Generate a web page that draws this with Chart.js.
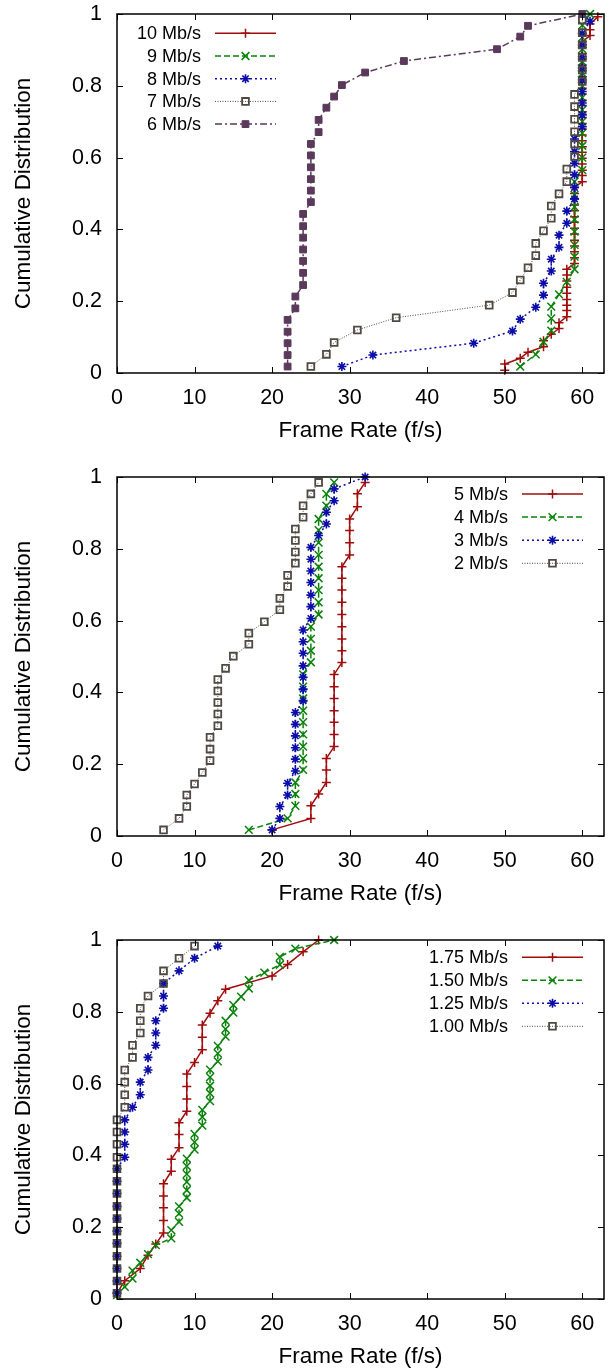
<!DOCTYPE html>
<html>
<head>
<meta charset="utf-8">
<script src="https://cdn.jsdelivr.net/npm/chart.js@4.4.0/dist/chart.umd.min.js"></script>
<style>
  html, body { margin: 0; padding: 0; background: #fff; }
  #wrap { position: relative; width: 611px; height: 1369px; overflow: hidden; }
  canvas { position: absolute; left: 0; }
</style>
</head>
<body>
<div id="wrap">
  <canvas id="c1" width="611" height="463" style="top:0"></canvas>
  <canvas id="c2" width="611" height="463" style="top:463px"></canvas>
  <canvas id="c3" width="611" height="463" style="top:926px"></canvas>
</div>
<script>
// tick labels
const xTicks = [0, 10, 20, 30, 40, 50, 60];
const yTicks = [0, 0.2, 0.4, 0.6, 0.8, 1];

// top panel: 10 / 9 / 8 / 7 / 6 Mb/s
const fps10 = [50,50,52,53,55,55,56,57,57,58, 58,58,58,58,58,58,58,58,
  59,59,59,59,59,59,59,59,59,59,59,59,59,59,
  60,60,60,60,60,60,60,60,60,60,60,60,60,60,60,60,60,60,60,60,60,60,60,60,60,
  61,61,61, 62];
const cdf10 = [0.008,0.025,0.041,0.058,0.073,0.090,0.108,0.124,0.140,0.157,
  0.174,0.189,0.205,0.222,0.239,0.256,0.273,0.289,
  0.305,0.321,0.338,0.354,0.370,0.387,0.403,0.420,0.435,0.452,0.468,0.485,0.500,0.517,
  0.533,0.550,0.565,0.582,0.598,0.615,0.630,0.647,0.663,0.680,0.695,0.712,0.728,0.745,
  0.760,0.777,0.793,0.810,0.825,0.842,0.858,0.875,0.890,0.907,0.923,
  0.940,0.956,0.972, 0.992];

const fps9 = [52,54,55,56,56,56,57,58, 59,59,59,59,59,59,59,59,
  60,60,60,60,60,60,60,60,60,60,60,60,60, 61];
const cdf9 = [0.018,0.052,0.087,0.118,0.152,0.185,0.219,0.254,
  0.289,0.324,0.357,0.394,0.428,0.463,0.496,0.533,
  0.565,0.600,0.633,0.668,0.700,0.733,0.767,0.800,0.835,0.867,0.902,0.935,0.969, 1.0];

const fps8 = [29,33,46,51,52,54,55,55,56,56,57,57,58,58,59,59,59,59,59,59,
  60,60,60,60,60,60,60,60,60, 61];
const cdf8 = [0.018,0.050,0.083,0.117,0.150,0.183,0.217,0.250,0.284,0.317,0.350,0.384,
  0.417,0.451,0.485,0.517,0.552,0.584,0.617,0.652,0.686,0.719,0.752,0.784,0.816,0.849,
  0.881,0.914,0.946,0.980];

const fps7 = [25,27,28,31,36,48,51,52,53,54,54,55,56,56,57,58,58,59,59,59,59,59,59,
  60,60,60,60,60,60];
const cdf7 = [0.018,0.052,0.085,0.120,0.154,0.189,0.224,0.259,0.293,0.327,0.361,0.396,
  0.431,0.465,0.499,0.533,0.568,0.603,0.638,0.672,0.707,0.742,0.776,0.812,0.844,0.879,
  0.914,0.948,0.983];

const fps6 = [22,22,22,22,22,23,23,24,24,24,24,24,24,24,25,25,25,25,25,25,26,26,27,28,29,
  32,37,49,52,53,60];
const cdf6 = [0.018,0.050,0.083,0.115,0.148,0.180,0.213,0.245,0.279,0.312,0.344,0.377,
  0.409,0.443,0.476,0.508,0.540,0.573,0.606,0.638,0.671,0.705,0.739,0.770,0.802,0.837,
  0.869,0.902,0.937,0.967,1.0];

// middle panel: 5 / 4 / 3 / 2 Mb/s
const fps5 = [20,25,25,26,27,27,27,28,28,28,28,28,28,28,29,29,29,29,29,29,29,29,29,
  30,30,30,30,31,31,32];
const cdf5 = [0.017,0.049,0.084,0.117,0.149,0.184,0.216,0.249,0.283,0.317,0.349,0.383,
  0.416,0.450,0.483,0.516,0.549,0.583,0.617,0.651,0.685,0.718,0.750,0.783,0.817,0.851,
  0.883,0.917,0.953,0.985];

const fps4 = [17,22,23,23,23,24,24,24,24,24,24,24,24,24,25,25,25,25,
  26,26,26,26,26,26,26,26,26,27,27,28];
const cdf4 = [0.017,0.049,0.084,0.117,0.149,0.184,0.216,0.249,0.283,0.317,0.349,0.383,
  0.416,0.450,0.484,0.516,0.549,0.583,0.617,0.651,0.685,0.718,0.750,0.783,0.817,0.852,
  0.883,0.920,0.953,0.985];

const fps3 = [20,21,21,22,22,23,23,23,23,23,23,24,24,24,24,24,24,24,
  25,25,25,25,25,25,25,26,27,27,28,28,32];
const cdf3 = [0.017,0.049,0.082,0.114,0.147,0.181,0.214,0.246,0.279,0.311,0.344,0.377,
  0.409,0.442,0.474,0.509,0.541,0.574,0.606,0.639,0.671,0.706,0.738,0.771,0.804,0.837,
  0.869,0.902,0.934,0.967,1.0];

const fps2 = [6,8,9,9,10,11,12,12,12,13,13,13,13,13,14,15,17,17,19,21,21,22,22,
  23,23,23,23,24,24,25,26];
const cdf2 = [0.017,0.049,0.082,0.114,0.145,0.177,0.210,0.242,0.275,0.307,0.340,0.372,
  0.404,0.436,0.467,0.501,0.534,0.565,0.597,0.630,0.662,0.695,0.726,0.760,0.791,0.823,
  0.855,0.888,0.920,0.953,0.985];

// bottom panel: 1.75 / 1.50 / 1.25 / 1.00 Mb/s
const fps175 = [0,1,3,4,5,6,6,6,6,6,7,7,8,8,8,9,9,9,9,10,11,11,11,12,13,14,20,22,24,26];
const cdf175 = [0.016,0.051,0.085,0.122,0.153,0.184,0.219,0.254,0.287,0.321,0.356,0.389,
  0.421,0.458,0.491,0.523,0.557,0.592,0.627,0.659,0.694,0.729,0.763,0.796,0.831,0.863,
  0.900,0.932,0.967,1.0];

const fps150 = [0,1,2,2,3,4,5,7,7,8,8,8,9,9,9,9,9,9,10,10,10,11,11,11,12,12,12,12,12,
  13,13,13,14,14,14,15,15,16,17,17,19,21,21,23,28];
const cdf150 = [0.011,0.034,0.057,0.079,0.101,0.125,0.150,0.169,0.192,0.215,0.238,0.258,
  0.282,0.303,0.326,0.348,0.370,0.391,0.416,0.437,0.460,0.483,0.507,0.527,0.551,0.573,
  0.594,0.618,0.639,0.662,0.684,0.705,0.731,0.752,0.775,0.798,0.819,0.842,0.865,0.888,
  0.909,0.931,0.953,0.976,1.0];

const fps125 = [0,0,0,0,0,0,0,0,0,0,0,1,1,1,1,2,3,3,4,4,5,5,5,6,6,6,8,10,13];
const cdf125 = [0.016,0.050,0.085,0.119,0.155,0.189,0.224,0.258,0.294,0.328,0.363,0.395,
  0.431,0.465,0.499,0.534,0.569,0.604,0.638,0.673,0.707,0.741,0.775,0.810,0.844,0.879,
  0.914,0.949,0.983];

const fps100 = [0,0,0,0,0,0,0,0,0,0,0,0,0,0,0,1,1,1,1,2,2,3,3,3,4,6,6,8,10];
const cdf100 = [0.016,0.050,0.085,0.119,0.155,0.189,0.224,0.258,0.294,0.328,0.363,0.395,
  0.431,0.465,0.499,0.534,0.569,0.604,0.638,0.673,0.707,0.741,0.775,0.810,0.844,0.879,
  0.914,0.949,0.983];

const fontFamily = '"Liberation Sans", Arial, Helvetica, sans-serif';

// gnuplot-like line types
const lt = [
  { color: '#a00c0c', dash: [], width: 1.5, point: 'cross', radius: 4.5, fill: '#a00c0c', pw: 1.5 },
  { color: '#0a820a', dash: [6, 3], width: 1.5, point: 'crossRot', radius: 5.5, fill: '#0a820a', pw: 1.5 },
  { color: '#0c0ca8', dash: [2, 3], width: 1.5, point: 'star', radius: 4.5, fill: '#0c0ca8', pw: 1.6 },
  { color: '#4f4943', dash: [1, 1.5], width: 1, point: 'rect', radius: 4.8, fill: 'rgba(0,0,0,0)', pw: 1.8 },
  { color: '#5a395a', dash: [7, 3, 2, 3], width: 1.5, point: 'rect', radius: 4.8, fill: '#5a395a', pw: 1 }
];

// frame, inner ticks and gnuplot style key
const frame = {
  id: 'frame',
  afterDatasetsDraw(chart, args, opts) {
    const { ctx, chartArea: a } = chart;
    const x = chart.scales.x, y = chart.scales.y;
    ctx.save();
    ctx.setLineDash([]);
    ctx.strokeStyle = '#000';
    ctx.lineWidth = 1;
    ctx.beginPath();
    xTicks.forEach(v => {
      const px = Math.round(x.getPixelForValue(v)) + 0.5;
      ctx.moveTo(px, a.bottom); ctx.lineTo(px, a.bottom - 6);
      ctx.moveTo(px, a.top); ctx.lineTo(px, a.top + 6);
    });
    yTicks.forEach(v => {
      const py = Math.round(y.getPixelForValue(v)) + 0.5;
      ctx.moveTo(a.left, py); ctx.lineTo(a.left + 6, py);
      ctx.moveTo(a.right, py); ctx.lineTo(a.right - 6, py);
    });
    ctx.stroke();
    ctx.lineWidth = 1.5;
    ctx.strokeRect(a.left, a.top, a.right - a.left, a.bottom - a.top);

    // key
    ctx.font = '18px ' + fontFamily;
    ctx.textAlign = 'right';
    ctx.textBaseline = 'middle';
    chart.data.datasets.forEach((ds, i) => {
      const ry = opts.top + i * opts.gap;
      ctx.fillStyle = '#000';
      ctx.fillText(ds.label, opts.textRight, ry + 1);
      ctx.strokeStyle = ds.borderColor;
      ctx.lineWidth = ds.borderWidth;
      ctx.setLineDash(ds.borderDash);
      ctx.beginPath();
      ctx.moveTo(opts.lineLeft, ry);
      ctx.lineTo(opts.lineRight, ry);
      ctx.stroke();
      ctx.setLineDash([]);
      ctx.fillStyle = ds.pointBackgroundColor;
      ctx.strokeStyle = ds.pointBorderColor;
      ctx.lineWidth = ds.pointBorderWidth;
      Chart.helpers.drawPoint(ctx, {
        pointStyle: ds.pointStyle, radius: ds.pointRadius, rotation: 0, borderWidth: ds.pointBorderWidth
      }, (opts.lineLeft + opts.lineRight) / 2, ry);
    });
    ctx.restore();
  }
};

function makeChart(id, labels, xs, ys, key) {
  const datasets = labels.map((label, i) => ({
    label: label,
    data: xs[i].map((v, k) => ({ x: v, y: ys[i][k] })),
    borderColor: lt[i].color,
    borderWidth: lt[i].width,
    borderDash: lt[i].dash,
    pointStyle: lt[i].point,
    pointRadius: lt[i].radius,
    pointBorderColor: lt[i].color,
    pointBackgroundColor: lt[i].fill,
    pointBorderWidth: lt[i].pw,
    fill: false,
    tension: 0,
    clip: false,
    order: -i
  }));

  new Chart(document.getElementById(id), {
    type: 'line',
    data: { datasets: datasets },
    options: {
      responsive: false,
      animation: false,
      devicePixelRatio: 1,
      layout: { padding: { left: 0, right: 2, top: 14, bottom: 0 } },
      plugins: { legend: { display: false }, tooltip: { enabled: false }, frame: key },
      scales: {
        x: {
          type: 'linear', min: 0, max: 62.8,
          afterBuildTicks: s => { s.ticks = xTicks.map(v => ({ value: v })); },
          afterFit: s => { s.height = 90; s.paddingLeft = 0; s.paddingRight = 0; },
          grid: { display: false, drawTicks: false },
          border: { display: false },
          ticks: { padding: 12, color: '#000', maxRotation: 0, autoSkip: false,
            font: { family: fontFamily, size: 21.5 } },
          title: { display: true, text: 'Frame Rate (f/s)', color: '#000',
            font: { family: fontFamily, size: 22.5 }, padding: { top: 0, bottom: 18.5 } }
        },
        y: {
          type: 'linear', min: 0, max: 1,
          afterBuildTicks: s => { s.ticks = yTicks.map(v => ({ value: v })); },
          afterFit: s => { s.width = 117; s.paddingTop = 0; s.paddingBottom = 0; },
          grid: { display: false, drawTicks: false },
          border: { display: false },
          ticks: { padding: 15, color: '#000', callback: v => String(v),
            font: { family: fontFamily, size: 21.5 } },
          title: { display: true, text: 'Cumulative Distribution', color: '#000',
            font: { family: fontFamily, size: 22.5 }, padding: { top: 10.5, bottom: 0 } }
        }
      }
    },
    plugins: [frame]
  });
}

makeChart('c1', ['10 Mb/s', '9 Mb/s', '8 Mb/s', '7 Mb/s', '6 Mb/s'],
  [fps10, fps9, fps8, fps7, fps6], [cdf10, cdf9, cdf8, cdf7, cdf6],
  { top: 33.3, gap: 22.7, textRight: 201, lineLeft: 215, lineRight: 276 });

makeChart('c2', ['5 Mb/s', '4 Mb/s', '3 Mb/s', '2 Mb/s'],
  [fps5, fps4, fps3, fps2], [cdf5, cdf4, cdf3, cdf2],
  { top: 31, gap: 23.1, textRight: 508, lineLeft: 522, lineRight: 583 });

makeChart('c3', ['1.75 Mb/s', '1.50 Mb/s', '1.25 Mb/s', '1.00 Mb/s'],
  [fps175, fps150, fps125, fps100], [cdf175, cdf150, cdf125, cdf100],
  { top: 31.3, gap: 23, textRight: 508, lineLeft: 522, lineRight: 583 });
</script>
</body>
</html>
